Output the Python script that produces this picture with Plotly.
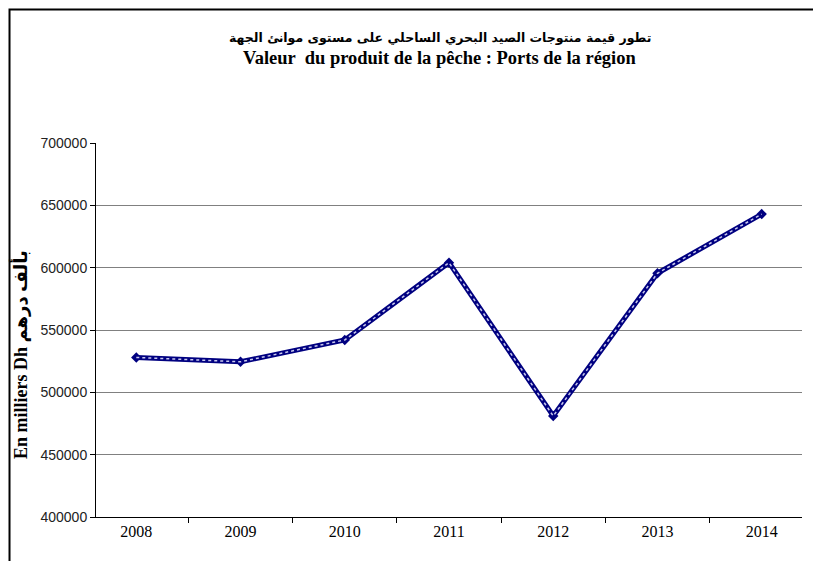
import plotly.graph_objects as go

# Valeur du produit de la pêche, ports de la région (en milliers Dh)
years = ['2008', '2009', '2010', '2011', '2012', '2013', '2014']
valeurs = [528000, 524500, 542000, 604000, 481000, 595500, 643000]

title_ar = 'تطور قيمة منتوجات الصيد البحري الساحلي على مستوى موانئ الجهة'
title_fr = 'Valeur  du produit de la pêche : Ports de la région'
y_label = 'En milliers Dh بألف درهم'

fig = go.Figure()

# thick navy line + light dotted line on top (Excel-like style)
fig.add_trace(go.Scatter(
    x=years, y=valeurs, mode='lines+markers',
    line=dict(color='#000080', width=5),
    marker=dict(symbol='diamond', size=8, color='#000080'),
    hoverinfo='skip', showlegend=False
))
fig.add_trace(go.Scatter(
    x=years, y=valeurs, mode='lines',
    line=dict(color='#C8C8EE', width=1.5, dash='dot'),
    hovertemplate='%{x}: %{y}<extra></extra>', showlegend=False
))

# the page body adds an 8px offset, so the figure is 8px smaller
fig.update_layout(
    width=813, height=553,
    margin=dict(l=88, r=19, t=135, b=44),
    paper_bgcolor='white', plot_bgcolor='white',
    xaxis=dict(
        type='category', tickson='boundaries',
        ticks='outside', ticklen=5, tickcolor='black',
        showline=True, linecolor='black', linewidth=1,
        showgrid=False,
        tickfont=dict(family='Liberation Serif, Times New Roman', size=16, color='black'),
    ),
    yaxis=dict(
        range=[400000, 700000], dtick=50000, tickformat='d',
        ticks='outside', ticklen=5, tickcolor='black',
        showline=True, linecolor='black', linewidth=1,
        showgrid=True, gridcolor='#808080', gridwidth=1,
        zeroline=False,
        tickfont=dict(family='Liberation Sans, Arial', size=14, color='#222'),
    ),
    font=dict(family='Liberation Serif, DejaVu Sans'),
)

# chart frame
fig.add_shape(type='rect', xref='paper', yref='paper',
              x0=-0.1225, x1=1.2, y0=-0.3, y1=1.357,
              line=dict(color='black', width=2), layer='below')

fig.add_annotation(text='<b>' + title_ar + '</b>', xref='paper', yref='paper',
                   x=0.487, y=1.2834, xanchor='center', yanchor='middle', showarrow=False,
                   font=dict(family='DejaVu Sans', size=12.5, color='black', weight='bold'))
fig.add_annotation(text='<b>' + title_fr + '</b>', xref='paper', yref='paper',
                   x=0.487, y=1.2273, xanchor='center', yanchor='middle', showarrow=False,
                   font=dict(family='Liberation Serif, Times New Roman', size=18.5, color='black'))
fig.add_annotation(text='<b>' + y_label + '</b>', xref='paper', yref='paper',
                   x=-0.1076, y=0.433, xanchor='center', yanchor='middle',
                   textangle=-90, showarrow=False,
                   font=dict(family='Liberation Serif, DejaVu Sans', size=18, color='black'))

fig.write_html("out.html")
